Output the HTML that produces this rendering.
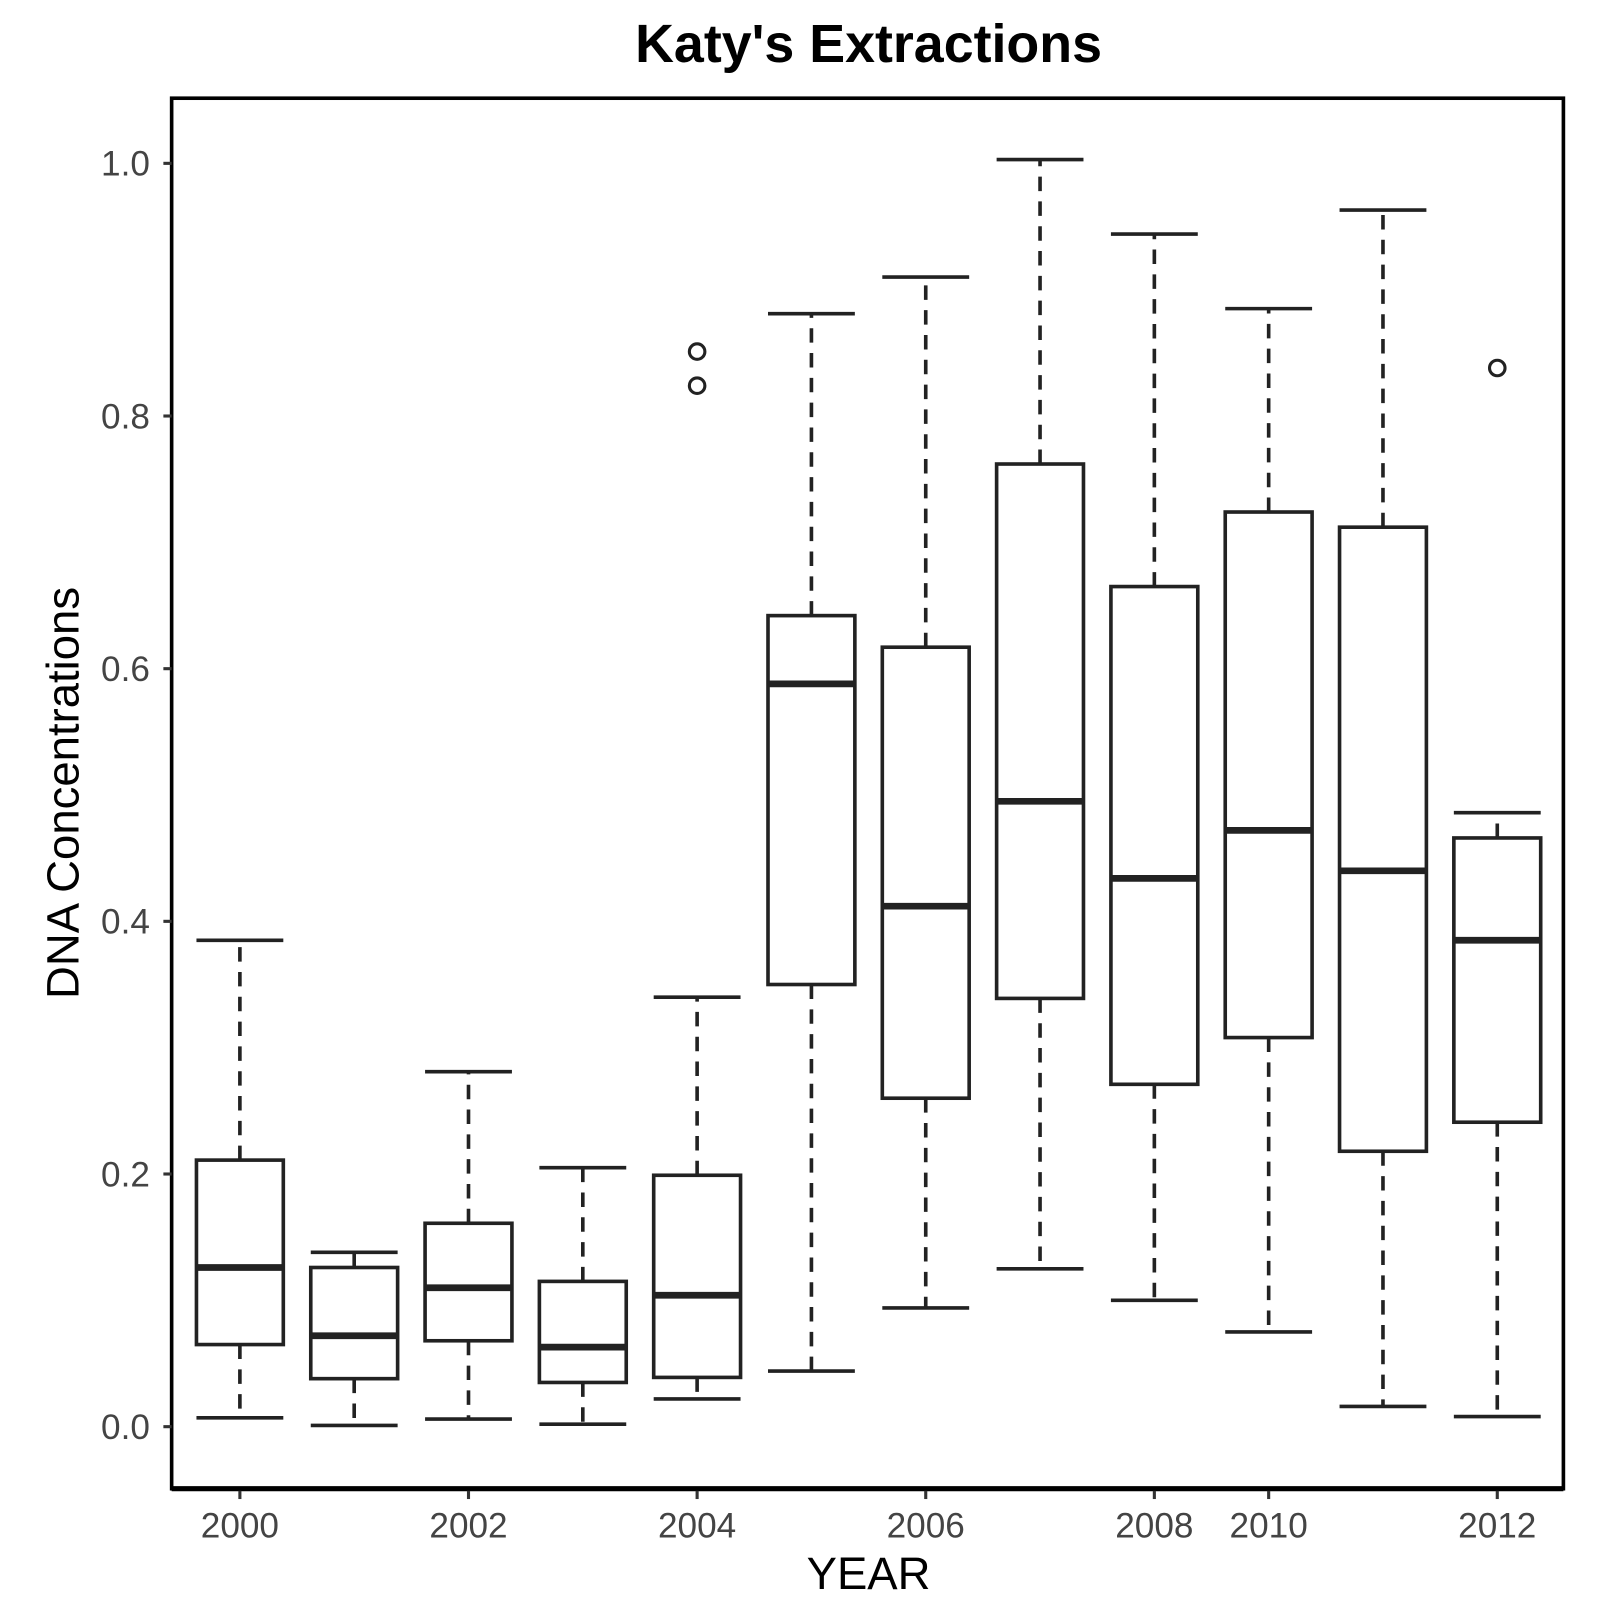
<!DOCTYPE html>
<html><head><meta charset="utf-8"><style>html,body{margin:0;padding:0;background:#fff}svg{display:block}text{font-family:"Liberation Sans",Arial,sans-serif}</style></head>
<body>
<svg id="chart" width="1612" height="1620" viewBox="0 0 1559 1567" preserveAspectRatio="none" xmlns="http://www.w3.org/2000/svg">
<text x="840" y="60" text-anchor="middle" font-size="52" font-weight="bold">Katy's Extractions</text>
<rect x="166" y="95" width="1346" height="1345" fill="none" stroke="#000" stroke-width="3.5"/>
<line x1="166" x2="1512" y1="1440" y2="1440" stroke="#000" stroke-width="5"/>
<text transform="translate(76,767) rotate(-90)" text-anchor="middle" font-size="44">DNA Concentrations</text>
<text x="840" y="1537" text-anchor="middle" font-size="44">YEAR</text>
<g id="marks"></g>
</svg>
<script>
const categories=["2000","2001","2002","2003","2004","2005","2006","2007","2008","2010","2011","2012"];
const whiskerLow=[0.007,0.001,0.006,0.002,0.022,0.044,0.094,0.125,0.100,0.075,0.016,0.008];
const q1=[0.065,0.038,0.068,0.035,0.039,0.350,0.260,0.339,0.271,0.308,0.218,0.241];
const medians=[0.126,0.072,0.110,0.063,0.104,0.588,0.412,0.495,0.434,0.472,0.440,0.385];
const q3=[0.211,0.126,0.161,0.115,0.199,0.642,0.617,0.762,0.665,0.724,0.712,0.466];
const whiskerHigh=[0.385,0.138,0.281,0.205,0.340,0.881,0.910,1.003,0.944,0.885,0.963,0.486];
const outlierCat=["2004","2004","2012"];
const outlierVal=[0.851,0.824,0.838];
const yTicks=[0,0.2,0.4,0.6,0.8,1.0];
const yTickLabels=["0.0","0.2","0.4","0.6","0.8","1.0"];
const xTickLabels=["2000","2002","2004","2006","2008","2010","2012"];
const NS="http://www.w3.org/2000/svg";
const g=document.getElementById('marks');
const y=v=>1380-v*1222;
const x=c=>232+categories.indexOf(c)*110.55;
const hw=42;
function mk(t,a){const e=document.createElementNS(NS,t);for(const k in a)e.setAttribute(k,a[k]);g.appendChild(e);return e;}
yTicks.forEach((v,i)=>{
 const t=mk('line',{x1:158,x2:166,y1:y(v),y2:y(v),stroke:'#333','stroke-width':3});
 
 
 const l=mk('text',{x:145,y:y(v)+12,'text-anchor':'end','font-size':34,fill:'#444'});
 l.textContent=yTickLabels[i];
 
 
});
xTickLabels.forEach(c=>{
 const t=mk('line',{x1:x(c),x2:x(c),y1:1442,y2:1450,stroke:'#333','stroke-width':3});
 
 
 const l=mk('text',{x:x(c),y:1487,'text-anchor':'middle','font-size':34,fill:'#444'});
 l.textContent=c;
 
 
});
categories.forEach((c,i)=>{
 const cx=x(c),st={stroke:'#222','stroke-width':3.5,fill:'none'};
 const w1=mk('line',Object.assign({x1:cx,x2:cx,y1:y(q3[i]),y2:y(whiskerHigh[i]),'stroke-dasharray':'14,10'},st));
 
 
 const w2=mk('line',Object.assign({x1:cx,x2:cx,y1:y(q1[i]),y2:y(whiskerLow[i]),'stroke-dasharray':'14,10'},st));
 
 
 const c1=mk('line',Object.assign({x1:cx-hw,x2:cx+hw,y1:y(whiskerHigh[i]),y2:y(whiskerHigh[i])},st));
 
 
 const c2=mk('line',Object.assign({x1:cx-hw,x2:cx+hw,y1:y(whiskerLow[i]),y2:y(whiskerLow[i])},st));
 
 
 const b=mk('rect',{x:cx-hw,y:y(q3[i]),width:2*hw,height:y(q1[i])-y(q3[i]),fill:'#fff',stroke:'#222','stroke-width':3.5});
 
 
 const m=mk('line',{x1:cx-hw,x2:cx+hw,y1:y(medians[i]),y2:y(medians[i]),stroke:'#222','stroke-width':6.5});
 
 
});
outlierCat.forEach((c,i)=>{
 const o=mk('circle',{cx:x(c),cy:y(outlierVal[i]),r:7.5,fill:'none',stroke:'#222','stroke-width':3});
 
 
});
</script>
</body></html>
